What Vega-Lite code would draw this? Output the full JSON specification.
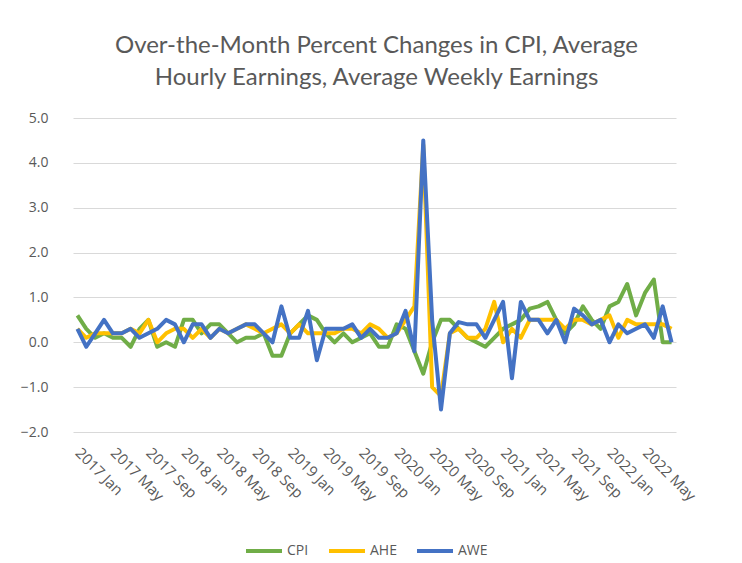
{
  "$schema": "https://vega.github.io/schema/vega-lite/v6.json",
  "width": 603,
  "height": 314,
  "autosize": "none",
  "padding": {"left": 73, "top": 118, "right": 66, "bottom": 131},
  "background": "white",
  "config": {"view": {"stroke": null}, "font": "Open Sans"},
  "title": {
    "text": ["Over-the-Month Percent Changes in CPI, Average", "Hourly Earnings, Average Weekly Earnings"],
    "font": "Lato", "fontSize": 24, "fontWeight": "normal", "color": "#595959",
    "anchor": "middle", "offset": 21, "lineHeight": 32, "dx": 2
  },
  "data": {"values": [
    {"m":"2017 Jan","CPI":0.6,"AHE":0.3,"AWE":0.3},
    {"m":"2017 Feb","CPI":0.3,"AHE":0.1,"AWE":-0.1},
    {"m":"2017 Mar","CPI":0.1,"AHE":0.2,"AWE":0.2},
    {"m":"2017 Apr","CPI":0.2,"AHE":0.2,"AWE":0.5},
    {"m":"2017 May","CPI":0.1,"AHE":0.2,"AWE":0.2},
    {"m":"2017 Jun","CPI":0.1,"AHE":0.2,"AWE":0.2},
    {"m":"2017 Jul","CPI":-0.1,"AHE":0.3,"AWE":0.3},
    {"m":"2017 Aug","CPI":0.3,"AHE":0.2,"AWE":0.1},
    {"m":"2017 Sep","CPI":0.5,"AHE":0.5,"AWE":0.2},
    {"m":"2017 Oct","CPI":-0.1,"AHE":0.0,"AWE":0.3},
    {"m":"2017 Nov","CPI":0.0,"AHE":0.2,"AWE":0.5},
    {"m":"2017 Dec","CPI":-0.1,"AHE":0.3,"AWE":0.4},
    {"m":"2018 Jan","CPI":0.5,"AHE":0.3,"AWE":0.0},
    {"m":"2018 Feb","CPI":0.5,"AHE":0.1,"AWE":0.4},
    {"m":"2018 Mar","CPI":0.2,"AHE":0.3,"AWE":0.4},
    {"m":"2018 Apr","CPI":0.4,"AHE":0.1,"AWE":0.1},
    {"m":"2018 May","CPI":0.4,"AHE":0.3,"AWE":0.3},
    {"m":"2018 Jun","CPI":0.2,"AHE":0.2,"AWE":0.2},
    {"m":"2018 Jul","CPI":0.0,"AHE":0.3,"AWE":0.3},
    {"m":"2018 Aug","CPI":0.1,"AHE":0.4,"AWE":0.4},
    {"m":"2018 Sep","CPI":0.1,"AHE":0.3,"AWE":0.4},
    {"m":"2018 Oct","CPI":0.2,"AHE":0.2,"AWE":0.2},
    {"m":"2018 Nov","CPI":-0.3,"AHE":0.3,"AWE":0.0},
    {"m":"2018 Dec","CPI":-0.3,"AHE":0.4,"AWE":0.8},
    {"m":"2019 Jan","CPI":0.2,"AHE":0.2,"AWE":0.1},
    {"m":"2019 Feb","CPI":0.4,"AHE":0.4,"AWE":0.1},
    {"m":"2019 Mar","CPI":0.6,"AHE":0.2,"AWE":0.7},
    {"m":"2019 Apr","CPI":0.5,"AHE":0.2,"AWE":-0.4},
    {"m":"2019 May","CPI":0.2,"AHE":0.2,"AWE":0.3},
    {"m":"2019 Jun","CPI":0.0,"AHE":0.2,"AWE":0.3},
    {"m":"2019 Jul","CPI":0.2,"AHE":0.3,"AWE":0.3},
    {"m":"2019 Aug","CPI":0.0,"AHE":0.3,"AWE":0.4},
    {"m":"2019 Sep","CPI":0.1,"AHE":0.2,"AWE":0.1},
    {"m":"2019 Oct","CPI":0.2,"AHE":0.4,"AWE":0.3},
    {"m":"2019 Nov","CPI":-0.1,"AHE":0.3,"AWE":0.1},
    {"m":"2019 Dec","CPI":-0.1,"AHE":0.1,"AWE":0.1},
    {"m":"2020 Jan","CPI":0.4,"AHE":0.2,"AWE":0.2},
    {"m":"2020 Feb","CPI":0.3,"AHE":0.5,"AWE":0.7},
    {"m":"2020 Mar","CPI":-0.2,"AHE":0.8,"AWE":-0.2},
    {"m":"2020 Apr","CPI":-0.7,"AHE":4.4,"AWE":4.5},
    {"m":"2020 May","CPI":0.0,"AHE":-1.0,"AWE":0.5},
    {"m":"2020 Jun","CPI":0.5,"AHE":-1.2,"AWE":-1.5},
    {"m":"2020 Jul","CPI":0.5,"AHE":0.2,"AWE":0.2},
    {"m":"2020 Aug","CPI":0.3,"AHE":0.3,"AWE":0.45},
    {"m":"2020 Sep","CPI":0.1,"AHE":0.1,"AWE":0.4},
    {"m":"2020 Oct","CPI":0.0,"AHE":0.1,"AWE":0.4},
    {"m":"2020 Nov","CPI":-0.1,"AHE":0.3,"AWE":0.1},
    {"m":"2020 Dec","CPI":0.1,"AHE":0.9,"AWE":0.5},
    {"m":"2021 Jan","CPI":0.3,"AHE":0.0,"AWE":0.9},
    {"m":"2021 Feb","CPI":0.4,"AHE":0.3,"AWE":-0.8},
    {"m":"2021 Mar","CPI":0.5,"AHE":0.1,"AWE":0.9},
    {"m":"2021 Apr","CPI":0.75,"AHE":0.5,"AWE":0.5},
    {"m":"2021 May","CPI":0.8,"AHE":0.5,"AWE":0.5},
    {"m":"2021 Jun","CPI":0.9,"AHE":0.5,"AWE":0.2},
    {"m":"2021 Jul","CPI":0.5,"AHE":0.5,"AWE":0.5},
    {"m":"2021 Aug","CPI":0.2,"AHE":0.3,"AWE":0.0},
    {"m":"2021 Sep","CPI":0.4,"AHE":0.5,"AWE":0.75},
    {"m":"2021 Oct","CPI":0.8,"AHE":0.5,"AWE":0.6},
    {"m":"2021 Nov","CPI":0.5,"AHE":0.4,"AWE":0.4},
    {"m":"2021 Dec","CPI":0.3,"AHE":0.5,"AWE":0.5},
    {"m":"2022 Jan","CPI":0.8,"AHE":0.6,"AWE":0.0},
    {"m":"2022 Feb","CPI":0.9,"AHE":0.1,"AWE":0.4},
    {"m":"2022 Mar","CPI":1.3,"AHE":0.5,"AWE":0.2},
    {"m":"2022 Apr","CPI":0.6,"AHE":0.4,"AWE":0.3},
    {"m":"2022 May","CPI":1.1,"AHE":0.4,"AWE":0.4},
    {"m":"2022 Jun","CPI":1.4,"AHE":0.4,"AWE":0.1},
    {"m":"2022 Jul","CPI":0.0,"AHE":0.4,"AWE":0.8},
    {"m":"2022 Aug","CPI":0.0,"AHE":0.3,"AWE":0.0}
  ]},
  "encoding": {
    "x": {
      "field": "m", "type": "ordinal", "sort": null,
      "scale": {"type": "point", "padding": 0.5},
      "axis": {
        "title": null,
        "values": ["2017 Jan","2017 May","2017 Sep","2018 Jan","2018 May","2018 Sep","2019 Jan","2019 May","2019 Sep","2020 Jan","2020 May","2020 Sep","2021 Jan","2021 May","2021 Sep","2022 Jan","2022 May"],
        "labelAngle": 45, "labelAlign": "left", "labelBaseline": "middle",
        "labelPadding": 18, "labelFontSize": 15, "labelColor": "#595959",
        "domain": false, "ticks": false, "grid": false
      }
    }
  },
  "layer": [
    {
      "mark": {"type": "line", "strokeWidth": 4, "strokeJoin": "round"},
      "encoding": {
        "y": {
          "field": "CPI", "type": "quantitative",
          "scale": {"domain": [-2, 5], "nice": false},
          "axis": {
            "title": null, "values": [-2,-1,0,1,2,3,4,5], "format": ".1f",
            "labelFontSize": 14, "labelColor": "#595959", "labelPadding": 25,
            "domain": false, "ticks": false, "gridColor": "#d9d9d9", "gridWidth": 1
          }
        },
        "color": {
          "datum": "CPI",
          "scale": {"domain": ["CPI","AHE","AWE"], "range": ["#70AD47","#FFC000","#4472C4"]},
          "legend": {
            "title": null, "orient": "none", "direction": "horizontal",
            "legendX": 171, "legendY": 413,
            "symbolType": "stroke", "symbolSize": 1296, "symbolStrokeWidth": 4,
            "labelFontSize": 14, "labelColor": "#595959", "columnPadding": 12, "labelOffset": 3
          }
        }
      }
    },
    {
      "mark": {"type": "line", "strokeWidth": 4, "strokeJoin": "round"},
      "encoding": {
        "y": {"field": "AHE", "type": "quantitative"},
        "color": {"datum": "AHE"}
      }
    },
    {
      "mark": {"type": "line", "strokeWidth": 4, "strokeJoin": "round"},
      "encoding": {
        "y": {"field": "AWE", "type": "quantitative"},
        "color": {"datum": "AWE"}
      }
    }
  ]
}
